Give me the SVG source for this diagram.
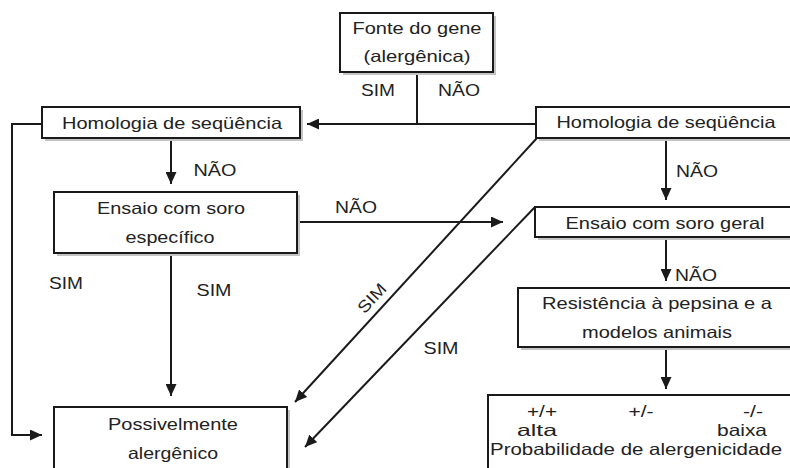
<svg xmlns="http://www.w3.org/2000/svg" width="790" height="468" viewBox="0 0 790 468">
<style>
.box{fill:#fff;stroke:#1a1a1a;stroke-width:2}
.sh{fill:#c4c4c4}
.t{font-family:"Liberation Sans",Arial,sans-serif;font-size:16.5px;fill:#222;text-anchor:middle}
.c{fill:none;stroke:#1a1a1a;stroke-width:2}
</style>
<defs>
<marker id="ah" markerUnits="userSpaceOnUse" markerWidth="13" markerHeight="11" refX="12" refY="5.5" orient="auto">
<path d="M0,0 L12,5.5 L0,11 z" fill="#1a1a1a"/>
</marker>
</defs>
<rect width="790" height="468" fill="#fff"/>
<g id="connectors">
<path class="c" d="M417,72 V124"/>
<path class="c" d="M537,124 H307" marker-end="url(#ah)"/>
<path class="c" d="M42,124 H12 V435 H42" marker-end="url(#ah)"/>
<path class="c" d="M171,138 V184" marker-end="url(#ah)"/>
<path class="c" d="M297,222 H503" marker-end="url(#ah)"/>
<path class="c" d="M171,253 V396" marker-end="url(#ah)"/>
<path class="c" d="M537,138 L295,402" marker-end="url(#ah)"/>
<path class="c" d="M666,138 V200" marker-end="url(#ah)"/>
<path class="c" d="M535,207 L305,447" marker-end="url(#ah)"/>
<path class="c" d="M666,237 V281" marker-end="url(#ah)"/>
<path class="c" d="M666,347 V389" marker-end="url(#ah)"/>
<text class="t" x="378" y="96" textLength="34" lengthAdjust="spacingAndGlyphs">SIM</text>
<text class="t" x="459" y="96" textLength="42" lengthAdjust="spacingAndGlyphs">NÃO</text>
<text class="t" x="215" y="176" textLength="43" lengthAdjust="spacingAndGlyphs">NÃO</text>
<text class="t" x="356" y="213" textLength="42" lengthAdjust="spacingAndGlyphs">NÃO</text>
<text class="t" x="697" y="177" textLength="42" lengthAdjust="spacingAndGlyphs">NÃO</text>
<text class="t" x="696" y="281" textLength="42" lengthAdjust="spacingAndGlyphs">NÃO</text>
<text class="t" x="66" y="289" textLength="34" lengthAdjust="spacingAndGlyphs">SIM</text>
<text class="t" x="214" y="296" textLength="35" lengthAdjust="spacingAndGlyphs">SIM</text>
<text class="t" x="0" y="0" textLength="34" lengthAdjust="spacingAndGlyphs" transform="translate(376,302) rotate(-47)">SIM</text>
<text class="t" x="441" y="354" textLength="35" lengthAdjust="spacingAndGlyphs">SIM</text>
</g>
<g id="fonte">
<rect class="sh" x="343" y="16" width="153" height="59"/>
<rect class="box" x="340" y="13" width="153" height="59"/>
<text class="t" x="417" y="34" textLength="129" lengthAdjust="spacingAndGlyphs">Fonte do gene</text>
<text class="t" x="417" y="62" textLength="107" lengthAdjust="spacingAndGlyphs">(alergênica)</text>
</g>
<g id="homologiaL">
<rect class="sh" x="45" y="110" width="258" height="31"/>
<rect class="box" x="42" y="107" width="258" height="31"/>
<text class="t" x="172" y="129" textLength="220" lengthAdjust="spacingAndGlyphs">Homologia de seqüência</text>
</g>
<g id="ensaioEspecifico">
<rect class="sh" x="57" y="195" width="243" height="61"/>
<rect class="box" x="54" y="192" width="243" height="61"/>
<text class="t" x="171" y="214" textLength="148" lengthAdjust="spacingAndGlyphs">Ensaio com soro</text>
<text class="t" x="170" y="243" textLength="89" lengthAdjust="spacingAndGlyphs">específico</text>
</g>
<g id="homologiaR">
<rect class="sh" x="539" y="110" width="270" height="31"/>
<rect class="box" x="536" y="107" width="270" height="31"/>
<text class="t" x="666" y="128" textLength="219" lengthAdjust="spacingAndGlyphs">Homologia de seqüência</text>
</g>
<g id="ensaioGeral">
<rect class="sh" x="538" y="210" width="270" height="30"/>
<rect class="box" x="535" y="207" width="270" height="30"/>
<text class="t" x="665" y="229" textLength="199" lengthAdjust="spacingAndGlyphs">Ensaio com soro geral</text>
</g>
<g id="resistencia">
<rect class="sh" x="521" y="291" width="290" height="59"/>
<rect class="box" x="518" y="288" width="290" height="59"/>
<text class="t" x="657" y="309" textLength="230" lengthAdjust="spacingAndGlyphs">Resistência à pepsina e a</text>
<text class="t" x="657" y="338" textLength="150" lengthAdjust="spacingAndGlyphs">modelos animais</text>
</g>
<g id="probabilidade">
<rect class="box" x="488" y="395" width="320" height="80"/>
<text class="t" x="542" y="417" textLength="30" lengthAdjust="spacingAndGlyphs">+/+</text>
<text class="t" x="641" y="417" textLength="25" lengthAdjust="spacingAndGlyphs">+/-</text>
<text class="t" x="753" y="417" textLength="20" lengthAdjust="spacingAndGlyphs">-/-</text>
<text class="t" x="537" y="436" textLength="40" lengthAdjust="spacingAndGlyphs">alta</text>
<text class="t" x="742" y="436" textLength="50" lengthAdjust="spacingAndGlyphs">baixa</text>
<text class="t" x="636" y="455" textLength="292" lengthAdjust="spacingAndGlyphs">Probabilidade de alergenicidade</text>
</g>
<g id="possivelmente">
<rect class="sh" x="57" y="410" width="233" height="70"/>
<rect class="box" x="54" y="407" width="233" height="70"/>
<text class="t" x="173" y="430" textLength="130" lengthAdjust="spacingAndGlyphs">Possivelmente</text>
<text class="t" x="173" y="459" textLength="90" lengthAdjust="spacingAndGlyphs">alergênico</text>
</g>
</svg>
